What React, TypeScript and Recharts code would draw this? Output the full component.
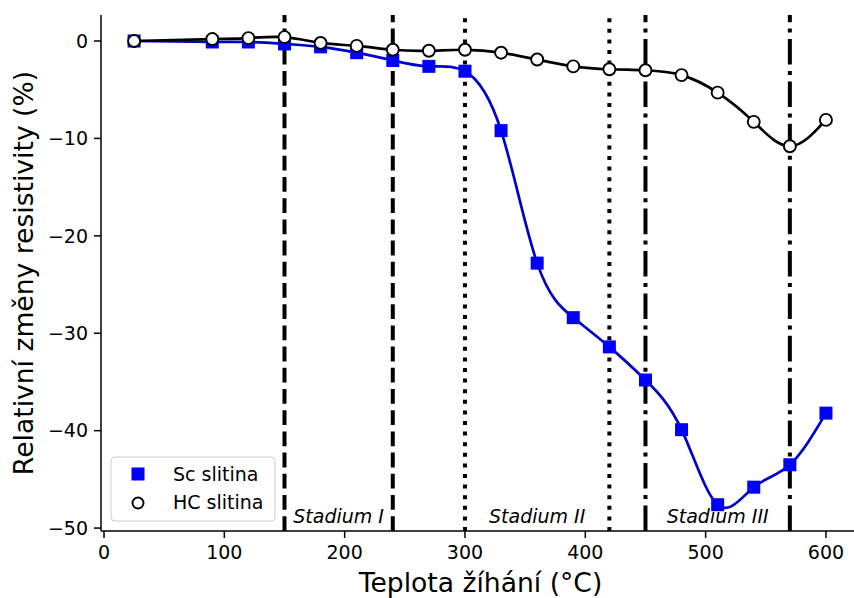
import { ComposedChart, Line, Scatter, XAxis, YAxis, ReferenceLine, Label } from 'recharts';

// annealing temperature (°C)
const temps = [25, 90, 120, 150, 180, 210, 240, 270, 300, 330, 360, 390, 420, 450, 480, 510, 540, 570, 600];
// relative change of resistivity (%)
const scValues = [0, -0.1, -0.1, -0.3, -0.6, -1.2, -2.0, -2.6, -3.1, -9.2, -22.8, -28.4, -31.4, -34.8, -39.9, -47.6, -45.8, -43.5, -38.2];
const hcValues = [0, 0.2, 0.3, 0.4, -0.2, -0.5, -0.9, -1.0, -0.9, -1.2, -1.9, -2.6, -2.9, -3.0, -3.5, -5.3, -8.3, -10.8, -8.1];
const seriesNames = ['Sc slitina', 'HC slitina'];

const stageNames = ['Stadium I', 'Stadium II', 'Stadium III'];
const stageStart = [150, 300, 450];
const stageEnd = [240, 420, 570];

const xTicks = [0, 100, 200, 300, 400, 500, 600];
const yTicks = [0, -10, -20, -30, -40, -50];

const FONT = "'DejaVu Sans', sans-serif";
const BLUE = '#0000ff';
const BLUE_LINE = '#0000cd';
const STAGE_DASH = ['14.8 6.4', '4 6.6', '25.6 6.4 4 6.4'];
const STAGE_LABEL_Y = -49.5;

const table = temps.map((t, i) => ({ x: t, sc: scValues[i], hc: hcValues[i] }));
const stageData = stageNames.map((name, i) => ({
  x: (stageStart[i] + stageEnd[i]) / 2,
  y: STAGE_LABEL_Y,
  name,
}));

const fmt = (v: number) => (v < 0 ? '\u2212' + Math.abs(v) : String(v));

const SquareDot = (p: any) =>
  p.cx == null ? null : (
    <rect key={`s${p.index}`} x={p.cx - 6.5} y={p.cy - 6.5} width={13} height={13} fill={BLUE} />
  );

const CircleDot = (p: any) =>
  p.cx == null ? null : (
    <circle key={`c${p.index}`} cx={p.cx} cy={p.cy} r={6} fill="#fff" stroke="#000" strokeWidth={1.9} />
  );

const StageText = (p: any) => (
  <text
    x={p.cx}
    y={p.cy}
    textAnchor="middle"
    fontFamily={FONT}
    fontSize={19}
    fontStyle="italic"
    fill="#000"
  >
    {p.payload.name}
  </text>
);

const axisStyle = { stroke: '#000', strokeWidth: 1.5 };
const tickStyle = { fill: '#000', fontSize: 19, fontFamily: FONT };

export default function App() {
  return (
    <div
      style={{
        position: 'fixed',
        left: 0,
        top: 0,
        width: 854,
        height: 598,
        overflow: 'hidden',
        background: '#fff',
      }}
    >
      <ComposedChart
        width={870}
        height={598}
        data={table}
        margin={{ top: 15, right: 10, left: 0, bottom: 0 }}
      >
        <XAxis
          xAxisId="top"
          orientation="top"
          type="number"
          dataKey="x"
          domain={[-2.5, 628.3]}
          allowDataOverflow
          height={0}
          tick={false}
          tickLine={false}
          axisLine={axisStyle}
        />
        <XAxis
          type="number"
          dataKey="x"
          domain={[-2.5, 628.3]}
          allowDataOverflow
          ticks={xTicks}
          height={67}
          tickSize={7}
          tickMargin={8}
          tick={tickStyle}
          tickLine={axisStyle}
          axisLine={axisStyle}
        >
          <Label
            content={({ viewBox }: any) => (
              <text
                x={viewBox.x + viewBox.width / 2}
                y={592}
                textAnchor="middle"
                fontFamily={FONT}
                fontSize={26.6}
                fill="#000"
              >
                Teplota žíhání (°C)
              </text>
            )}
          />
        </XAxis>
        <YAxis
          type="number"
          domain={[-50.3, 2.67]}
          allowDataOverflow
          ticks={yTicks}
          width={101}
          tickSize={7}
          tickMargin={6}
          tickFormatter={fmt}
          tick={tickStyle}
          tickLine={axisStyle}
          axisLine={axisStyle}
        >
          <Label
            content={({ viewBox }: any) => {
              const cy = viewBox.y + viewBox.height / 2;
              return (
                <text
                  x={33}
                  y={cy}
                  transform={`rotate(-90, 33, ${cy})`}
                  textAnchor="middle"
                  fontFamily={FONT}
                  fontSize={26.6}
                  fill="#000"
                >
                  Relativní změny resistivity (%)
                </text>
              );
            }}
          />
        </YAxis>

        {stageNames.map((_, i) => (
          <ReferenceLine
            key={`a${i}`}
            x={stageStart[i]}
            stroke="#000"
            strokeWidth={4}
            strokeDasharray={STAGE_DASH[i]}
          />
        ))}
        {stageNames.map((_, i) => (
          <ReferenceLine
            key={`b${i}`}
            x={stageEnd[i]}
            stroke="#000"
            strokeWidth={4}
            strokeDasharray={STAGE_DASH[i]}
          />
        ))}

        <Scatter data={stageData} dataKey="y" shape={StageText} isAnimationActive={false} />

        <Line
          type="natural"
          dataKey="sc"
          name={seriesNames[0]}
          stroke={BLUE_LINE}
          strokeWidth={2.7}
          dot={SquareDot}
          activeDot={false}
          isAnimationActive={false}
        />
        <Line
          type="natural"
          dataKey="hc"
          name={seriesNames[1]}
          stroke="#000"
          strokeWidth={2.7}
          dot={CircleDot}
          activeDot={false}
          isAnimationActive={false}
        />
      </ComposedChart>

      <svg
        width={166}
        height={66}
        style={{ position: 'absolute', left: 110, top: 456 }}
      >
        <rect
          x={1}
          y={1}
          width={164}
          height={64}
          rx={4}
          fill="rgba(255,255,255,0.8)"
          stroke="#cccccc"
          strokeWidth={1}
        />
        <rect x={28 - 6.5} y={18 - 6.5} width={13} height={13} fill={BLUE} />
        <text x={63} y={25} fontFamily={FONT} fontSize={19} fill="#000">
          {seriesNames[0]}
        </text>
        <circle cx={28} cy={47} r={5.5} fill="#fff" stroke="#000" strokeWidth={1.9} />
        <text x={63} y={53} fontFamily={FONT} fontSize={19} fill="#000">
          {seriesNames[1]}
        </text>
      </svg>
    </div>
  );
}
